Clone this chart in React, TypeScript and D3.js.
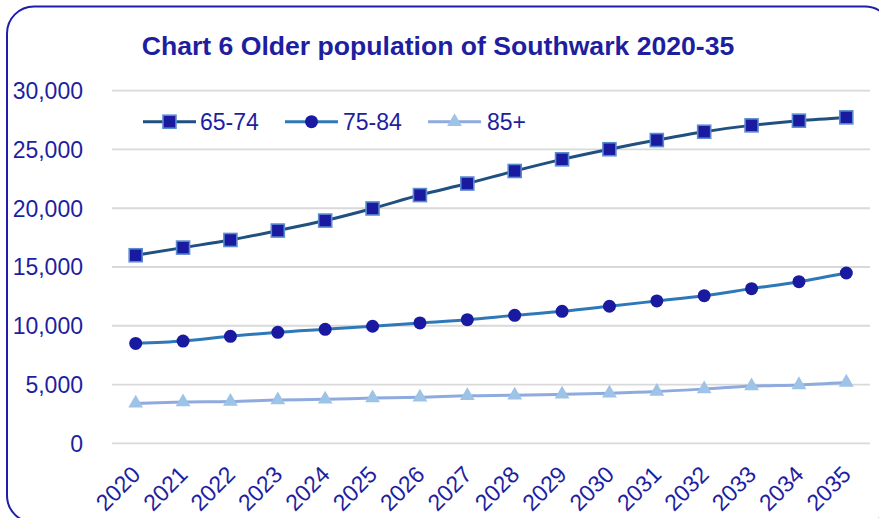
import React from "react";
import * as d3 from "d3";

const years = ["2020","2021","2022","2023","2024","2025","2026","2027","2028","2029","2030","2031","2032","2033","2034","2035"];
const age6574 = [16000,16650,17300,18100,18950,19980,21120,22100,23170,24160,25020,25800,26510,27050,27450,27730];
const age7584 = [8500,8700,9100,9440,9700,9960,10240,10520,10890,11230,11660,12110,12560,13160,13750,14490];
const age85 = [3400,3510,3550,3680,3740,3850,3910,4040,4090,4170,4260,4400,4620,4870,4970,5180];
const yTicks = [0,5000,10000,15000,20000,25000,30000];
const seriesNames = ["65-74","75-84","85+"];

const TEXT = "#1E1EA0";
const FONT = "'Liberation Sans', Arial, sans-serif";

export default function App() {
  const W = 879, H = 518;
  const x = d3.scalePoint<string>().domain(years).range([112, 870]).padding(0.5);
  const y = d3.scaleLinear().domain([0, 30000]).range([443.3, 90.7]);
  const line = d3.line<number>().x((_, i) => x(years[i])!).y(d => y(d)).curve(d3.curveMonotoneX);
  const fmt = d3.format(",");

  const series = [
    { name: seriesNames[0], data: age6574, color: "#1F5080", marker: "square" },
    { name: seriesNames[1], data: age7584, color: "#2E78B8", marker: "circle" },
    { name: seriesNames[2], data: age85, color: "#8EAADE", marker: "triangle" },
  ];

  const marker = (type: string, cx: number, cy: number, key: any) => {
    if (type === "square") return <rect key={key} x={cx - 6.5} y={cy - 6.5} width={13} height={13} fill="#1A1AA0" stroke="#5B8BD0" strokeWidth={1.6} />;
    if (type === "circle") return <circle key={key} cx={cx} cy={cy} r={6.5} fill="#1A1AA0" />;
    const tri = d3.symbol().type(d3.symbolTriangle).size(95)();
    return <path key={key} d={tri!} transform={`translate(${cx},${cy})`} fill="#9DC3E6" />;
  };

  const legendPos = [
    { lx: 143, tx: 200 },
    { lx: 285, tx: 343 },
    { lx: 428, tx: 487 },
  ];

  return (
    <svg width={W} height={H} style={{ position: "absolute", left: 0, top: 0, background: "#fff" }} fontFamily={FONT}>
      <rect x={7} y={6.5} width={885} height={516} rx={27} ry={27} fill="#fff" stroke="#1E1EA8" strokeWidth={2} />
      <text x={438} y={55} textAnchor="middle" fontSize={26.6} fontWeight="bold" fill={TEXT}>Chart 6 Older population of Southwark 2020-35</text>
      {yTicks.map(t => (
        <g key={t}>
          <line x1={112} x2={870} y1={y(t)} y2={y(t)} stroke="#D9D9D9" strokeWidth={1.8} />
          <text x={83} y={y(t)} dy="0.36em" textAnchor="end" fontSize={23} fill={TEXT}>{fmt(t)}</text>
        </g>
      ))}
      {years.map(yr => (
        <text key={yr} transform={`translate(${x(yr)! + 6},476) rotate(-45)`} textAnchor="end" fontSize={23} fill={TEXT}>{yr}</text>
      ))}
      {series.map(s => (
        <g key={s.name}>
          <path d={line(s.data)!} fill="none" stroke={s.color} strokeWidth={3} />
          {s.data.map((v, i) => marker(s.marker, x(years[i])!, y(v), i))}
        </g>
      ))}
      {series.map((s, i) => (
        <g key={"lg" + s.name}>
          <line x1={legendPos[i].lx} x2={legendPos[i].lx + 53} y1={121.7} y2={121.7} stroke={s.color} strokeWidth={3} />
          {marker(s.marker, legendPos[i].lx + 26.5, 121.7, "m")}
          <text x={legendPos[i].tx} y={121.7} dy="0.36em" fontSize={23} fill={TEXT}>{s.name}</text>
        </g>
      ))}
    </svg>
  );
}
